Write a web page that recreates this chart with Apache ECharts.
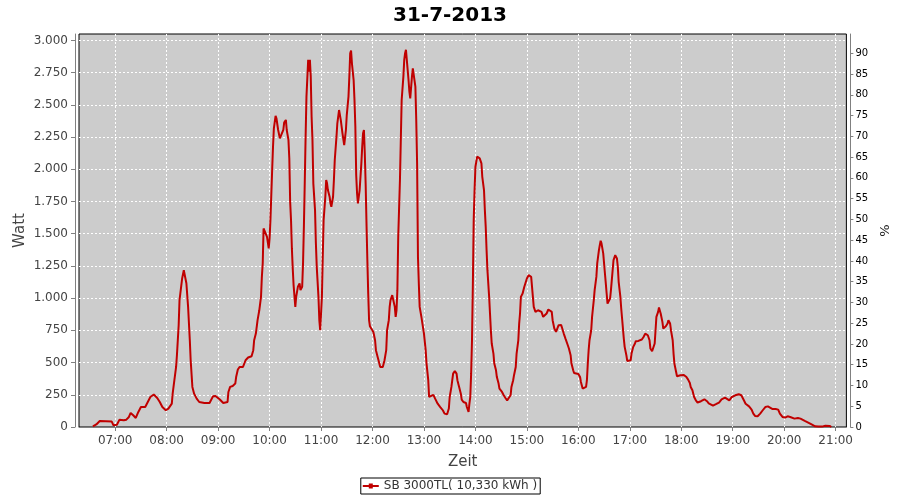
<!DOCTYPE html>
<html><head><meta charset="utf-8">
<script src="https://cdn.jsdelivr.net/npm/echarts@6/dist/echarts.min.js"></script>
<style>html,body{margin:0;padding:0;background:#fff}#c{width:900px;height:500px}</style>
</head><body><div id="c"></div>
<script>
const chartTitle = '31-7-2013';
const seriesName = 'SB 3000TL( 10,330 kWh )';
const times = ['06:34','06:38','06:42','06:49','06:56','06:58','07:02','07:05','07:07','07:10','07:13','07:16','07:18','07:21','07:24','07:27','07:30','07:35','07:38','07:41','07:45','07:49','07:52','07:55','07:59','08:02','08:06','08:07','08:09','08:11','08:12','08:14','08:15','08:18','08:20','08:23','08:25','08:27','08:28','08:30','08:32','08:35','08:38','08:44','08:50','08:54','08:57','09:02','09:06','09:08','09:11','09:12','09:14','09:17','09:20','09:21','09:23','09:25','09:29','09:32','09:35','09:39','09:41','09:42','09:44','09:46','09:48','09:50','09:51','09:52','09:53','09:55','09:57','09:59','10:00','10:01','10:03','10:04','10:05','10:07','10:08','10:10','10:12','10:14','10:16','10:17','10:19','10:20','10:22','10:23','10:24','10:25','10:26','10:27','10:28','10:30','10:31','10:33','10:35','10:36','10:38','10:39','10:40','10:41','10:42','10:43','10:45','10:46','10:47','10:48','10:49','10:50','10:51','10:53','10:54','10:55','10:57','10:58','10:59','11:00','11:01','11:02','11:03','11:05','11:06','11:07','11:08','11:10','11:11','11:12','11:14','11:15','11:16','11:18','11:19','11:21','11:22','11:23','11:24','11:25','11:27','11:28','11:29','11:30','11:32','11:33','11:34','11:35','11:36','11:38','11:39','11:40','11:41','11:42','11:43','11:44','11:45','11:47','11:48','11:49','11:50','11:51','11:52','11:53','11:54','11:55','11:56','11:57','11:59','12:01','12:03','12:04','12:06','12:07','12:09','12:10','12:12','12:14','12:16','12:17','12:19','12:20','12:21','12:23','12:24','12:25','12:26','12:27','12:28','12:29','12:30','12:32','12:33','12:34','12:36','12:37','12:38','12:39','12:41','12:42','12:43','12:44','12:45','12:46','12:47','12:49','12:50','12:51','12:52','12:53','12:54','12:55','12:57','12:58','13:00','13:02','13:03','13:05','13:06','13:08','13:11','13:13','13:16','13:19','13:22','13:24','13:27','13:29','13:30','13:32','13:33','13:34','13:36','13:38','13:39','13:41','13:43','13:44','13:46','13:49','13:50','13:52','13:53','13:54','13:55','13:56','13:57','13:58','13:59','14:00','14:02','14:04','14:05','14:07','14:08','14:10','14:11','14:12','14:13','14:14','14:16','14:17','14:18','14:19','14:21','14:22','14:24','14:25','14:27','14:28','14:31','14:33','14:35','14:37','14:39','14:41','14:42','14:44','14:45','14:47','14:48','14:50','14:51','14:52','14:53','14:55','14:57','14:59','15:00','15:02','15:04','15:05','15:06','15:07','15:08','15:10','15:11','15:13','15:14','15:15','15:17','15:19','15:21','15:23','15:25','15:27','15:29','15:30','15:32','15:34','15:35','15:37','15:40','15:41','15:43','15:45','15:47','15:49','15:51','15:52','15:54','15:55','15:57','16:00','16:02','16:03','16:05','16:07','16:09','16:10','16:11','16:12','16:13','16:15','16:16','16:18','16:19','16:21','16:22','16:24','16:25','16:26','16:27','16:29','16:30','16:31','16:32','16:33','16:34','16:36','16:37','16:38','16:39','16:40','16:41','16:43','16:44','16:45','16:46','16:47','16:49','16:50','16:51','16:52','16:53','16:54','16:56','16:57','16:59','17:01','17:02','17:04','17:06','17:07','17:10','17:12','17:14','17:16','17:18','17:19','17:21','17:23','17:24','17:26','17:27','17:29','17:30','17:31','17:33','17:34','17:35','17:36','17:38','17:39','17:41','17:42','17:44','17:45','17:47','17:48','17:50','17:51','17:52','17:54','17:55','17:57','17:59','18:01','18:03','18:05','18:06','18:08','18:10','18:11','18:13','18:14','18:15','18:17','18:19','18:21','18:23','18:25','18:27','18:30','18:32','18:34','18:37','18:39','18:41','18:44','18:47','18:51','18:53','18:56','18:59','19:03','19:07','19:10','19:13','19:15','19:19','19:22','19:24','19:26','19:29','19:32','19:35','19:38','19:41','19:43','19:46','19:50','19:53','19:55','19:58','20:01','20:04','20:07','20:09','20:12','20:16','20:19','20:21','20:24','20:28','20:30','20:33','20:36','20:40','20:44','20:48','20:50','20:53','20:55'];
const watts = [5,20,47,45,42,13,18,57,70,52,57,78,109,91,70,117,155,155,194,233,252,225,194,155,130,143,181,259,363,466,560,790,985,1150,1217,1116,932,673,518,311,259,220,194,186,186,238,241,213,186,176,194,272,311,318,337,388,446,466,466,518,539,549,596,673,725,829,906,1010,1165,1269,1541,1528,1476,1386,1463,1606,1994,2175,2318,2414,2396,2305,2240,2248,2305,2362,2383,2305,2228,2085,1748,1606,1386,1230,1101,932,1010,1088,1114,1062,1088,1269,1554,1891,2253,2564,2849,2758,2849,2719,2408,2228,1891,1683,1425,1243,1010,829,751,881,1010,1321,1606,1787,1917,1891,1839,1787,1736,1709,1787,1917,2072,2253,2357,2460,2468,2383,2331,2279,2188,2201,2305,2421,2564,2719,2901,2921,2823,2693,2538,2331,1955,1813,1736,1787,1839,2046,2175,2279,2305,2124,1891,1580,1295,1036,829,782,772,738,673,596,544,518,466,453,466,518,596,751,829,932,984,1023,1036,1010,932,855,906,1062,1476,1917,2228,2538,2719,2849,2901,2927,2771,2693,2603,2551,2564,2719,2784,2771,2641,2383,2046,1321,1114,932,855,842,725,596,492,363,233,240,250,220,181,155,130,104,99,143,233,311,363,414,435,414,363,311,259,213,194,186,155,117,181,233,414,673,1100,1606,1839,2020,2098,2111,2085,2046,1942,1839,1683,1554,1373,1217,1010,881,751,648,570,492,440,388,337,298,272,246,225,207,207,246,311,363,402,466,570,673,803,881,1010,1036,1088,1101,1153,1178,1191,1165,1088,1010,932,893,886,906,919,921,893,855,850,881,912,919,893,829,764,738,751,790,792,777,725,686,648,609,557,492,440,419,414,412,388,350,298,290,311,363,492,596,673,751,855,984,1062,1165,1269,1373,1411,1445,1425,1347,1269,1191,1114,1036,958,950,997,1062,1140,1217,1295,1334,1334,1308,1243,1127,1010,919,842,764,686,622,557,513,503,518,570,622,648,666,668,668,679,699,725,738,712,673,609,588,596,648,751,855,893,927,919,881,816,764,772,782,803,829,803,751,673,570,492,427,394,388,402,404,404,402,388,368,342,311,285,259,233,207,190,188,200,213,215,200,184,169,166,174,179,190,215,228,213,207,233,246,254,246,207,181,160,135,104,86,83,104,130,155,160,145,140,140,135,104,78,73,83,78,65,65,70,65,57,47,34,21,16,5,3,3,10,18,8,0];
const xTickLabels = ['07:00','08:00','09:00','10:00','11:00','12:00','13:00','14:00','15:00','16:00','17:00','18:00','19:00','20:00','21:00'];
const wattTicks = [0,250,500,750,1000,1250,1500,1750,2000,2250,2500,2750,3000];
const pctTicks = [0,5,10,15,20,25,30,35,40,45,50,55,60,65,70,75,80,85,90];

function toMin(s){ const p = s.split(':'); return Number(p[0])*60 + Number(p[1]); }
function fmtMin(v){ const h = Math.floor(v/60), m = Math.round(v%60); return (h<10?'0':'')+h+':'+(m<10?'0':'')+m; }
function fmtWatt(v){ if (v >= 1000) { const r = v % 1000; return Math.floor(v/1000) + '.' + String(r).padStart(3,'0'); } return String(v); }

const xTickValues = xTickLabels.map(toMin);
const seriesData = times.map((t,i) => [toMin(t), watts[i]]);

const font = 'DejaVu Sans';
const gray = '#808080';
const chart = echarts.init(document.getElementById('c'), null, {renderer:'canvas'});
chart.setOption({
  animation: false,
  backgroundColor: '#ffffff',
  title: { text: chartTitle, left: 'center', top: 1, textStyle: { fontFamily: font, fontSize: 20, fontWeight: 'bold', color: '#000' } },
  grid: { left: 79, right: 52, top: 34, bottom: 73, show: true, backgroundColor: '#cccccc', borderColor: '#000', borderWidth: 1 },
  legend: {
    data: [seriesName], left: 'center', top: 478,
    borderColor: '#000', borderWidth: 1, borderRadius: 0, padding: [2, 3, 2, 2],
    itemWidth: 16, itemHeight: 6,
    icon: 'path://M0,2 L16,2 L16,4 L0,4 Z M6,0.5 L10,0.5 L10,5.5 L6,5.5 Z',
    textStyle: { fontFamily: font, fontSize: 12, color: '#333' }
  },
  xAxis: {
    type: 'value', min: 377.8, max: 1272.5, offset: 4,
    name: 'Zeit', nameLocation: 'middle', nameGap: 24,
    nameTextStyle: { fontFamily: font, fontSize: 15, color: '#444' },
    axisLine: { show: true, lineStyle: { color: gray } },
    axisTick: { show: true, length: 4, lineStyle: { color: gray }, customValues: xTickValues },
    axisLabel: { customValues: xTickValues, formatter: fmtMin, fontFamily: font, fontSize: 12, color: '#444', margin: 4 },
    splitLine: { show: true, lineStyle: { color: '#ffffff', type: [2, 2], width: 1 } }
  },
  yAxis: [{
    type: 'value', min: 0, max: 3050, position: 'left', offset: 4,
    name: 'Watt', nameLocation: 'middle', nameGap: 47, nameRotate: 90, nameMoveOverlap: false,
    nameTextStyle: { fontFamily: font, fontSize: 15, color: '#444' },
    axisLine: { show: true, lineStyle: { color: gray } },
    axisTick: { show: true, length: 4, lineStyle: { color: gray }, customValues: wattTicks },
    axisLabel: { customValues: wattTicks, formatter: fmtWatt, fontFamily: font, fontSize: 12, color: '#444', margin: 7 },
    splitLine: { show: true, lineStyle: { color: '#ffffff', type: [2, 2], width: 1 } }
  }, {
    type: 'value', min: 0, max: 94.65, position: 'right', offset: 4,
    name: '%', nameLocation: 'middle', nameGap: 21, nameRotate: 90,
    nameTextStyle: { fontFamily: font, fontSize: 13, color: '#222' },
    axisLine: { show: true, lineStyle: { color: gray } },
    axisTick: { show: true, length: 3, lineStyle: { color: gray }, customValues: pctTicks },
    axisLabel: { customValues: pctTicks, fontFamily: font, fontSize: 10, color: '#000', margin: 5 },
    splitLine: { show: false }
  }],
  series: [{
    name: seriesName, type: 'line', data: seriesData, yAxisIndex: 0,
    showSymbol: false, symbol: 'none', smooth: false,
    lineStyle: { color: '#c00000', width: 2 },
    itemStyle: { color: '#c00000' }
  }]
});
</script></body></html>
